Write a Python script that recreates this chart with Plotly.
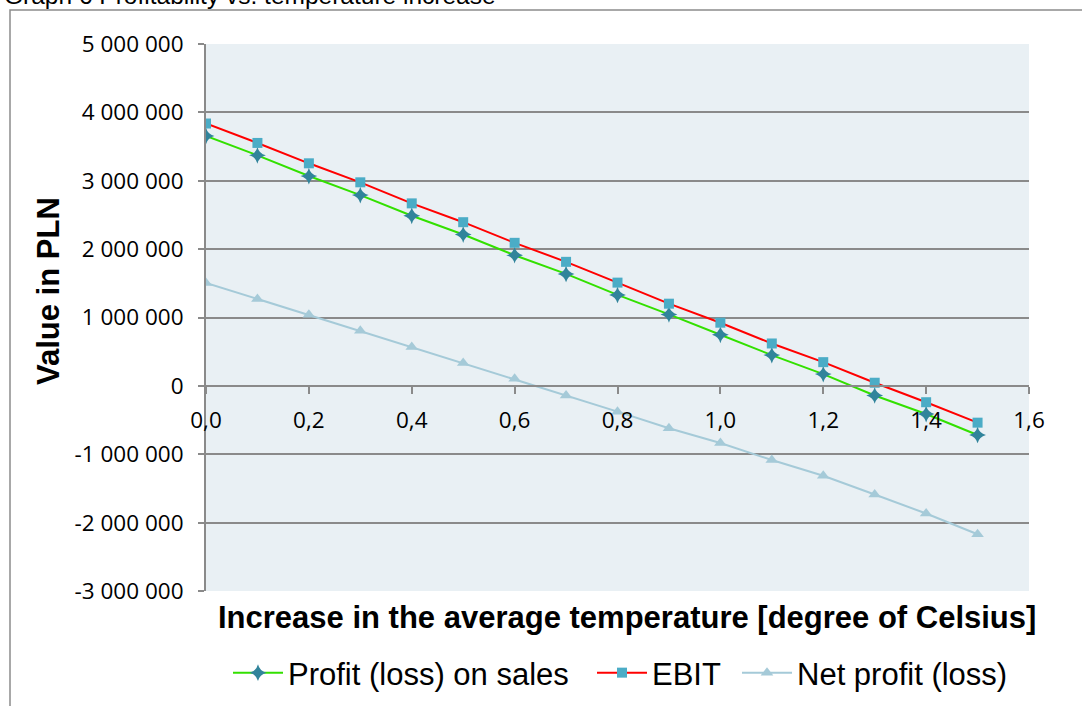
import plotly.graph_objects as go

# Temperature increase scenarios [deg C]
temp_increase = [0.0, 0.1, 0.2, 0.3, 0.4, 0.5, 0.6, 0.7, 0.8, 0.9, 1.0, 1.1, 1.2, 1.3, 1.4, 1.5]

# Results in PLN
profit_on_sales = [3655000, 3372000, 3069000, 2790000, 2488000, 2214000, 1911000, 1638000,
                   1330000, 1045000, 748000, 450000, 172000, -140000, -411000, -718000]
ebit = [3837000, 3553000, 3255000, 2977000, 2669000, 2394000, 2092000, 1814000,
        1510000, 1202000, 924000, 620000, 347000, 46000, -239000, -538000]
net_profit = [1506000, 1271000, 1041000, 806000, 567000, 333000, 103000, -142000,
              -377000, -620000, -836000, -1085000, -1315000, -1588000, -1867000, -2170000]

series_names = ["Profit (loss) on sales", "EBIT", "Net profit (loss)"]

y_tick_values = [5000000, 4000000, 3000000, 2000000, 1000000, 0,
                 -1000000, -2000000, -3000000]
y_tick_labels = ["5 000 000", "4 000 000", "3 000 000", "2 000 000", "1 000 000", "0",
                 "-1 000 000", "-2 000 000", "-3 000 000"]
x_tick_values = [0.0, 0.2, 0.4, 0.6, 0.8, 1.0, 1.2, 1.4, 1.6]
x_tick_labels = ["0,0", "0,2", "0,4", "0,6", "0,8", "1,0", "1,2", "1,4", "1,6"]

chart_title = "Graph 6 Profitability vs. temperature increase"
x_title = "Increase in the average temperature [degree of Celsius]"
y_title = "Value in PLN"

Y_MIN, Y_MAX = -3000000, 5000000
GRID = "#8a8a8a"

fig = go.Figure()

fig.add_trace(go.Scatter(
    x=temp_increase, y=profit_on_sales, name=series_names[0], mode="lines+markers",
    line=dict(color="#33e000", width=2),
    marker=dict(symbol="star-diamond", size=12, color="#31849B"),
    legend="legend",
))
fig.add_trace(go.Scatter(
    x=temp_increase, y=ebit, name=series_names[1], mode="lines+markers",
    line=dict(color="#ff0000", width=2),
    marker=dict(symbol="square", size=10, color="#4BACC6"),
    legend="legend2",
))
fig.add_trace(go.Scatter(
    x=temp_increase, y=net_profit, name=series_names[2], mode="lines+markers",
    line=dict(color="#A5CAD8", width=2),
    marker=dict(symbol="triangle-up", size=11, color="#A5CAD8"),
    legend="legend3",
))

# layout geometry in pixels
W, H = 1082, 706
ML, MR, MT, MB = 206, 53, 44, 115
PW, PH = W - ML - MR, H - MT - MB


def px_x(px):
    return (px - ML) / PW


def px_y(py):
    return (H - MB - py) / PH


zero_pos = (0 - Y_MIN) / (Y_MAX - Y_MIN)

legend_font = dict(family="Liberation Sans", size=31, color="black")


def legend_at(left_px):
    return dict(
        orientation="h", x=px_x(left_px), y=px_y(673), xanchor="left", yanchor="middle",
        font=legend_font, itemwidth=50, bgcolor="rgba(0,0,0,0)",
    )


fig.update_layout(
    width=W, height=H,
    margin=dict(l=ML, r=MR, t=MT, b=MB, pad=0, autoexpand=False),
    paper_bgcolor="white",
    plot_bgcolor="#E9F0F4",
    font=dict(family="Liberation Sans", color="black"),
    showlegend=True,
    legend=legend_at(228),
    legend2=legend_at(592),
    legend3=legend_at(737),
    xaxis=dict(
        range=[0, 1.6], tickvals=x_tick_values, ticktext=x_tick_labels,
        showgrid=False, zeroline=False,
        anchor="free", position=zero_pos,
        showline=True, linecolor=GRID, linewidth=2,
        ticks="outside", ticklen=7, tickwidth=2, tickcolor=GRID,
        tickfont=dict(family="Open Sans", size=22.5, color="black"),
        ticklabelstandoff=7,
    ),
    yaxis=dict(
        range=[Y_MIN, Y_MAX], tickvals=y_tick_values, ticktext=y_tick_labels,
        showgrid=True, gridcolor=GRID, gridwidth=2,
        zeroline=False,
        showline=True, linecolor=GRID, linewidth=2,
        ticks="outside", ticklen=6, tickwidth=2, tickcolor=GRID,
        tickfont=dict(family="Open Sans", size=22.5, color="black"),
        ticklabelstandoff=10,
    ),
    shapes=[
        # outer chart frame
        dict(type="rect", xref="paper", yref="paper",
             x0=px_x(10), x1=px_x(1100), y0=px_y(10), y1=px_y(720),
             line=dict(color="#8c8c8c", width=1.5), layer="below"),
    ],
    annotations=[
        dict(text=chart_title, xref="paper", yref="paper", x=px_x(2), y=px_y(-5),
             xanchor="left", yanchor="middle", showarrow=False,
             font=dict(family="Liberation Sans", size=24.5, color="black")),
        dict(text="<b>" + x_title + "</b>", xref="paper", yref="paper",
             x=px_x(627), y=px_y(617), xanchor="center", yanchor="middle", showarrow=False,
             font=dict(family="Liberation Sans", size=31, color="black")),
        dict(text="<b>" + y_title + "</b>", xref="paper", yref="paper",
             x=px_x(48), y=px_y(291), xanchor="center", yanchor="middle", showarrow=False,
             textangle=-90,
             font=dict(family="Liberation Sans", size=31, color="black")),
    ],
)

fig.write_html("out.html")
